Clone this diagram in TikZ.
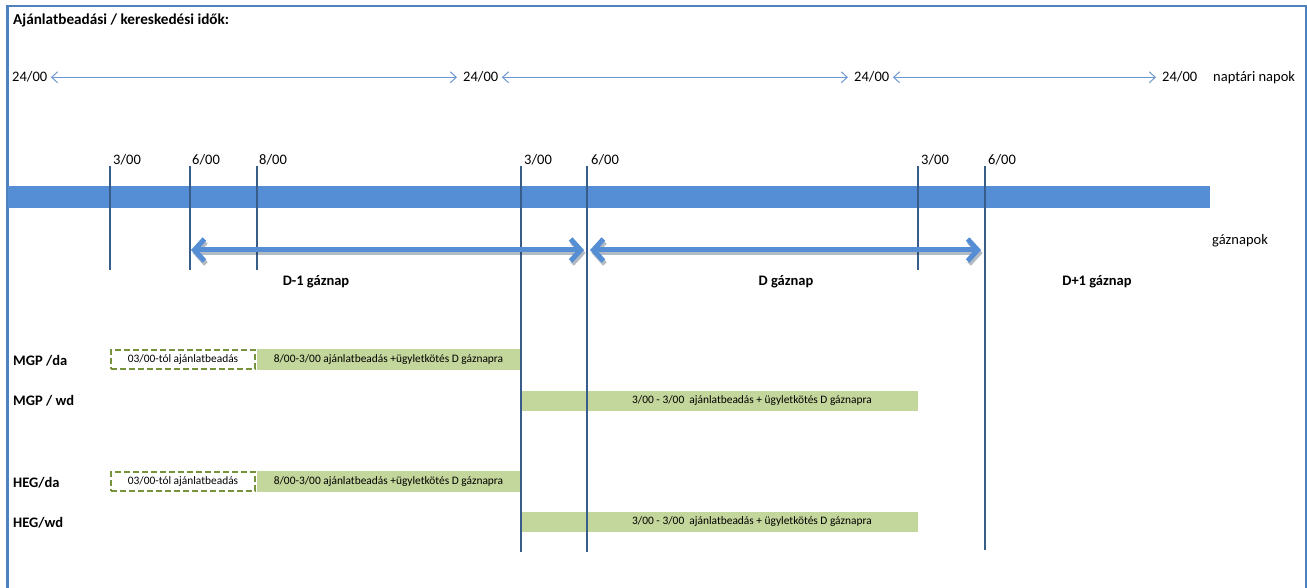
\documentclass[tikz,border=0pt]{standalone}
\usepackage{fontspec}
\setmainfont{Carlito}
\usetikzlibrary{positioning, calc, arrows.meta}
\definecolor{Frame}{HTML}{4F81BD}
\definecolor{Band}{HTML}{558ED5}
\definecolor{Tick}{HTML}{385D8A}
\definecolor{Thin}{HTML}{6F97D0}
\definecolor{Leaf}{HTML}{C3D69B}
\definecolor{Olive}{HTML}{77933C}
\tikzset{
    txt/.style={inner sep=0pt, font=\fontsize{14.5}{17}\selectfont},
    boldtxt/.style={inner sep=0pt, font=\fontsize{14.5}{17}\selectfont\bfseries},
    smalltxt/.style={inner sep=0pt, font=\fontsize{11.4}{13}\selectfont},
    thinarrow/.style={{Straight Barb[length=6pt, width=11pt]}-{Straight Barb[length=6pt, width=11pt]}, line width=1pt, color=Thin, shorten <=3.5pt, shorten >=6pt},
    dayarrow/.style={{Straight Barb[length=10pt, width=22pt]}-{Straight Barb[length=10pt, width=22pt]}, line width=5pt, color=Band},
    dayshadow/.style={dayarrow, color=Tick!60!black, opacity=0.35, transform canvas={shift={(1.5pt,-3pt)}}},
    tick/.style={line width=2.5pt, color=Tick},
    greenbox/.style={rectangle, fill=Leaf, minimum height=21pt, inner sep=0pt, font=\fontsize{11.4}{13}\selectfont},
    dashbox/.style={rectangle, draw=Olive, dash pattern=on 6pt off 3pt, line width=2pt, minimum width=144pt, minimum height=19pt, inner sep=0pt, font=\fontsize{11.4}{13}\selectfont},
}

\begin{document}
\begin{tikzpicture}[x=1pt, y=-1pt]
    \useasboundingbox (0,0) rectangle (1307,588);

    % Keret
    \draw[Frame, line width=2.5pt] (7.5,588) -- (7.5,6) -- (1306,6) -- (1306,588);

    % Cím
    \node[boldtxt, anchor=base west, font=\fontsize{15.2}{18}\selectfont\bfseries] (title) at (13,25) {Ajánlatbeadási / kereskedési idők:};

    % Naptári napok
    \node[txt, anchor=base west] (k1) at (12,82) {24/00};
    \node[txt, anchor=base west] (k2) at (463,82) {24/00};
    \node[txt, anchor=base west] (k3) at (854,82) {24/00};
    \node[txt, anchor=base west] (k4) at (1162,82) {24/00};
    \node[txt, anchor=base west] (naptar) at (1213,82) {naptári napok};
    \draw[thinarrow] (k1) -- (k2);
    \draw[thinarrow] (k2) -- (k3);
    \draw[thinarrow] (k3) -- (k4);

    % Időpontok
    \node[txt, anchor=base west] (h1) at (113,165) {3/00};
    \node[txt, anchor=base west] (h2) at (192,165) {6/00};
    \node[txt, anchor=base west] (h3) at (259,165) {8/00};
    \node[txt, anchor=base west] (h4) at (524,165) {3/00};
    \node[txt, anchor=base west] (h5) at (591,165) {6/00};
    \node[txt, anchor=base west] (h6) at (921,165) {3/00};
    \node[txt, anchor=base west] (h7) at (988,165) {6/00};

    % Idősáv
    \fill[Band] (8,186) rectangle (1210,208);

    % Sorok: MGP
    \node[boldtxt, anchor=base west] (mgpda) at (13,365) {MGP /da};
    \node[dashbox] (mgpda0) at (183,359.5) {03/00-tól ajánlatbeadás};
    \node[greenbox, minimum width=263pt] (mgpda1) at (388.5,359.5) {8/00-3/00 ajánlatbeadás +ügyletkötés D gáznapra};
    \node[boldtxt, anchor=base west] (mgpwd) at (13,405) {MGP / wd};
    \node[greenbox, minimum width=396pt, minimum height=20pt] (mgpwd1) at (720,401) {};
    \node[smalltxt] at ($(mgpwd1.center)+(32,0)$) {3/00 - 3/00\ \ ajánlatbeadás + ügyletkötés D gáznapra};

    % Sorok: HEG
    \node[boldtxt, anchor=base west] (hegda) at (13,487) {HEG/da};
    \node[dashbox] (hegda0) at (183,481.5) {03/00-tól ajánlatbeadás};
    \node[greenbox, minimum width=263pt] (hegda1) at (388.5,481.5) {8/00-3/00 ajánlatbeadás +ügyletkötés D gáznapra};
    \node[boldtxt, anchor=base west] (hegwd) at (13,527) {HEG/wd};
    \node[greenbox, minimum width=396pt, minimum height=20pt] (hegwd1) at (720,522) {};
    \node[smalltxt] at ($(hegwd1.center)+(32,0)$) {3/00 - 3/00\ \ ajánlatbeadás + ügyletkötés D gáznapra};

    % Függőleges vonalak
    \draw[tick] (110,166) -- (110,270);
    \draw[tick] (190,166) -- (190,270);
    \draw[tick] (257,166) -- (257,270);
    \draw[tick] (521,166) -- (521,552);
    \draw[tick] (587,166) -- (587,552);
    \draw[tick] (918,166) -- (918,270);
    \draw[tick] (985,166) -- (985,550);

    % Gáznapok nyilai
    \coordinate (g1) at (191,250);
    \coordinate (g2) at (584,250);
    \coordinate (g3) at (590,250);
    \coordinate (g4) at (981,250);
    \draw[dayshadow] (g1) -- (g2);
    \draw[dayshadow] (g3) -- (g4);
    \draw[dayarrow] (g1) -- (g2);
    \draw[dayarrow] (g3) -- (g4);
    \node[txt, anchor=base west] (gaznapok) at (1212,245) {gáznapok};

    % Gáznapok nevei
    \node[boldtxt, anchor=base] (dm1) at (316,286) {D-1 gáznap};
    \node[boldtxt, anchor=base] (d0) at (786,286) {D gáznap};
    \node[boldtxt, anchor=base] (dp1) at (1097,286) {D+1 gáznap};
\end{tikzpicture}
\end{document}
